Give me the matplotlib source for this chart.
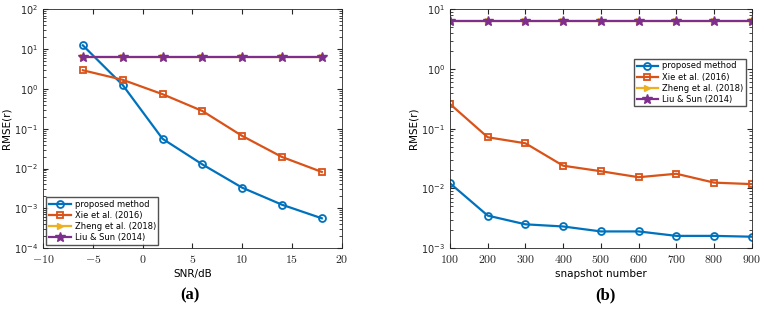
import numpy as np
import matplotlib.pyplot as plt
from matplotlib.ticker import LogLocator, NullFormatter

# panel (a): RMSE vs SNR
snr = [-6, -2, 2, 6, 10, 14, 18]
prop_snr = [12.5, 1.26, 0.056, 0.0127, 0.0033, 0.00123, 0.00056]
xie_snr = [2.95, 1.7, 0.74, 0.28, 0.066, 0.0195, 0.0082]
zheng_snr = [6.4, 6.4, 6.4, 6.4, 6.4, 6.4, 6.4]
liu_snr = [6.4, 6.4, 6.4, 6.4, 6.4, 6.4, 6.4]

# panel (b): RMSE vs snapshot number
snap = [100, 200, 300, 400, 500, 600, 700, 800, 900]
prop_snap = [0.0122, 0.0035, 0.0025, 0.0023, 0.0019, 0.0019, 0.0016, 0.0016, 0.00155]
xie_snap = [0.26, 0.072, 0.057, 0.024, 0.0194, 0.0154, 0.0176, 0.0125, 0.0118]
zheng_snap = [6.3] * 9
liu_snap = [6.3] * 9

labels = ['proposed method', 'Xie et al. (2016)', 'Zheng et al. (2018)', 'Liu & Sun (2014)']
colors = ['#0072BD', '#D95319', '#EDB120', '#7E2F8E']

plt.rcParams['mathtext.fontset'] = 'cm'
plt.rcParams['font.family'] = 'DejaVu Sans'

fig = plt.figure(figsize=(7.64, 3.14), dpi=100)
ax1 = fig.add_axes([0.0563, 0.210, 0.391, 0.760])
ax2 = fig.add_axes([0.589, 0.210, 0.395, 0.760])


def draw(ax, x, series):
    styles = [dict(marker='o', mfc='none', ms=5, mew=1.3),
              dict(marker='s', mfc='none', ms=4.5, mew=1.3),
              dict(marker='>', ms=5),
              dict(marker='*', ms=7)]
    for y, c, lab, st in zip(series, colors, labels, styles):
        ax.plot(x, y, color=c, lw=1.6, label=lab, **st)
    ax.set_yscale('log')
    ax.yaxis.set_minor_locator(LogLocator(base=10, subs=np.arange(2, 10), numticks=20))
    ax.yaxis.set_minor_formatter(NullFormatter())
    ax.tick_params(which='both', direction='in', top=True, right=True, colors='#262626',
                   labelcolor='#262626', labelsize=7)
    ax.tick_params(which='major', length=3.5)
    ax.tick_params(which='minor', length=2)
    for sp in ax.spines.values():
        sp.set_color('#262626')
        sp.set_linewidth(0.6)
    ax.set_ylabel('RMSE(r)', fontsize=7.5, labelpad=2)


draw(ax1, snr, [prop_snr, xie_snr, zheng_snr, liu_snr])
ax1.set_xlim(-10, 20)
ax1.set_ylim(1e-4, 1e2)
ax1.set_xticks([-10, -5, 0, 5, 10, 15, 20])
ax1.set_xticklabels([r'$-10$', r'$-5$', r'$0$', r'$5$', r'$10$', r'$15$', r'$20$'], fontsize=8.5)
ax1.set_xlabel('SNR/dB', fontsize=7.5, labelpad=2)
ax1.legend(loc='lower left', fontsize=6, frameon=True, fancybox=False, edgecolor='#262626',
           handlelength=2.6, borderaxespad=0.4, labelspacing=0.25, borderpad=0.3,
           handletextpad=0.5)

draw(ax2, snap, [prop_snap, xie_snap, zheng_snap, liu_snap])
ax2.set_xlim(100, 900)
ax2.set_ylim(1e-3, 1e1)
ax2.set_xticks(snap)
ax2.set_xticklabels([r'$%d$' % v for v in snap], fontsize=8.5)
ax2.set_xlabel('snapshot number', fontsize=7.5, labelpad=2)
ax2.legend(loc='upper right', bbox_to_anchor=(0.995, 0.81), fontsize=6, frameon=True,
           fancybox=False, edgecolor='#262626', handlelength=2.6, labelspacing=0.25,
           borderpad=0.3, handletextpad=0.5)

fig.text(0.249, 0.06, '(a)', ha='center', va='center', fontsize=12,
         family='Liberation Serif', weight='bold')
fig.text(0.793, 0.06, '(b)', ha='center', va='center', fontsize=12,
         family='Liberation Serif', weight='bold')

fig.savefig('out.png', dpi=100)
